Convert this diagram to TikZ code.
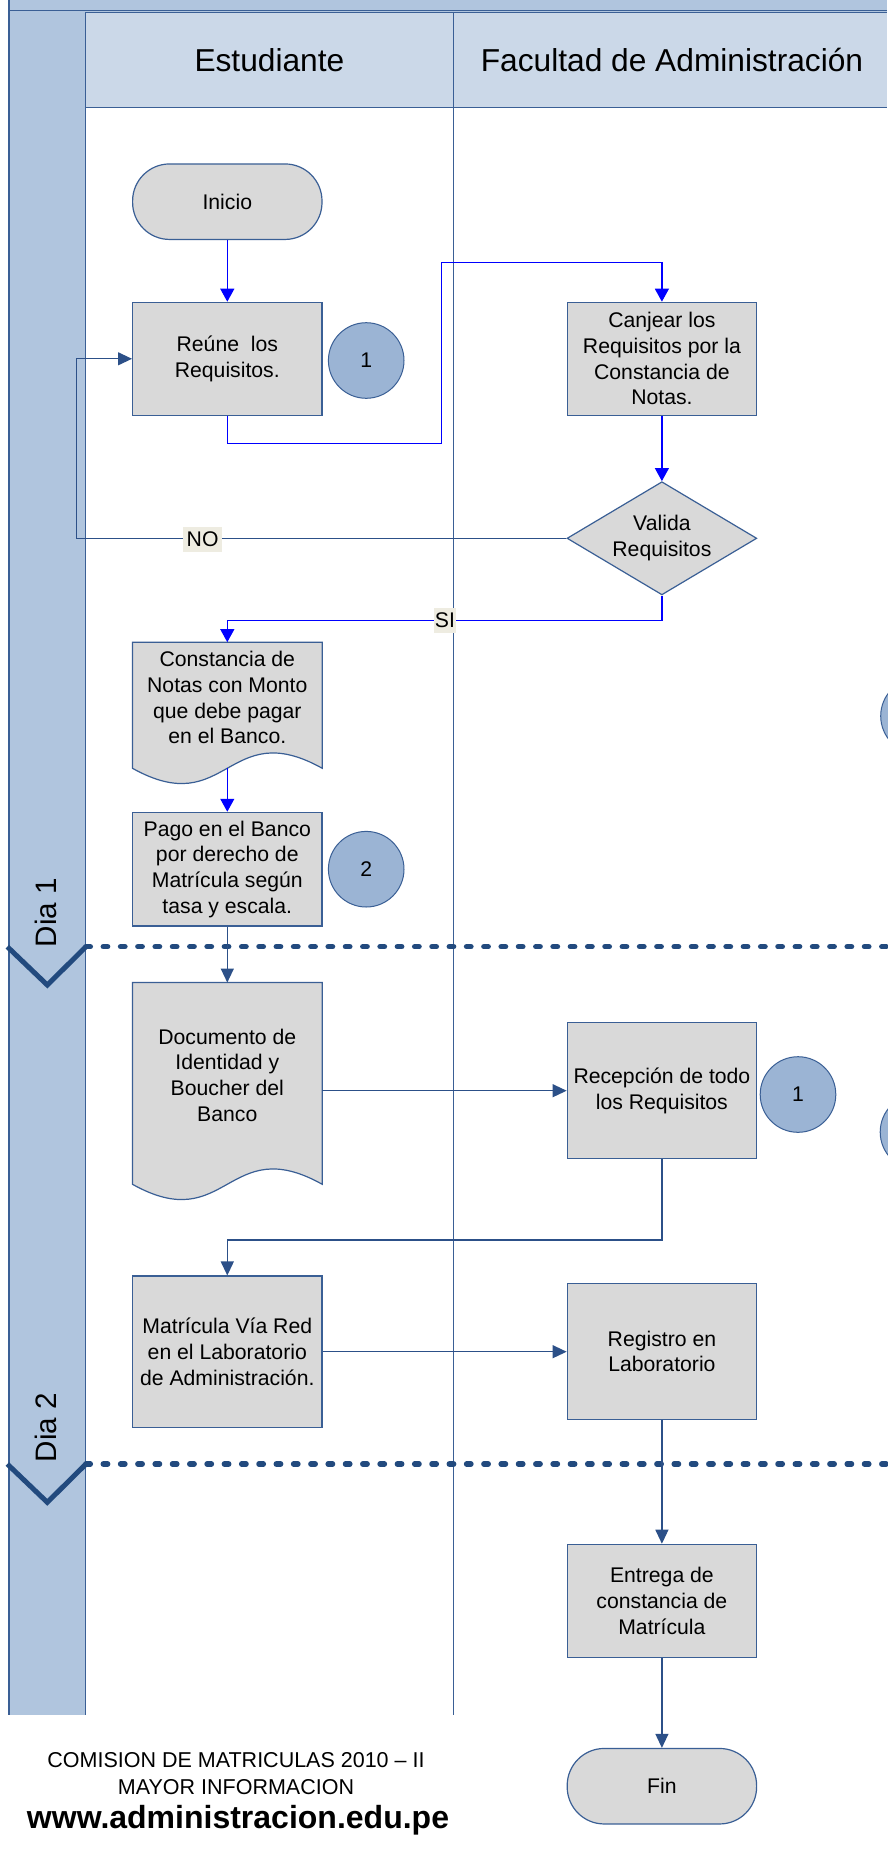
\documentclass[tikz,border=0pt]{standalone}
\usepackage{fontspec}
\setmainfont{Liberation Sans}
\usetikzlibrary{arrows.meta,shapes.geometric,calc,backgrounds}
\definecolor{stripblue}{HTML}{B0C5DE}
\definecolor{headblue}{HTML}{CBD8E8}
\definecolor{lanecol}{HTML}{3A5F95}
\definecolor{nodeline}{HTML}{3A5F95}
\definecolor{nodefill}{HTML}{D9D9D9}
\definecolor{circfill}{HTML}{9BB4D4}
\definecolor{darkarrow}{HTML}{2C5088}
\definecolor{dotblue}{HTML}{224A7E}
\definecolor{labelfill}{HTML}{EEECE1}
\newcommand\ndfont{\fontsize{21.2}{25.7}\selectfont}
\newcommand\hdfont{\fontsize{31.7}{36}\selectfont}
\newcommand\dyfont{\fontsize{29.6}{32}\selectfont}
\newcommand\ftfont{\fontsize{21.5}{25}\selectfont}
\newcommand\wwwfont{\fontsize{32}{36}\selectfont\bfseries}
\begin{document}
\begin{tikzpicture}[x=1pt,y=-1pt,
  laneline/.style={draw=lanecol,line width=1.3pt},
  procbox/.style={rectangle,draw=nodeline,fill=nodefill,line width=1.2pt,minimum width=189.4pt,inner sep=0pt,align=center,font=\ndfont},
  term/.style={procbox,rounded corners=37pt,minimum height=75.5pt},
  decision/.style={diamond,draw=nodeline,fill=nodefill,line width=1.2pt,minimum width=189.8pt,minimum height=113.2pt,aspect=1.677,inner sep=0pt,align=center,font=\ndfont},
  connector/.style={circle,draw=nodeline,fill=circfill,line width=1pt,minimum size=75.6pt,inner sep=0pt,font=\ndfont},
  docbox/.style={rectangle,minimum width=189.4pt,inner sep=0pt},
  doctext/.style={align=center,font=\ndfont,inner sep=0pt},
  docshape/.style={draw=nodeline,fill=nodefill,line width=1.2pt},
  blueflow/.style={draw=blue,line width=1.2pt,-{Triangle[length=13pt,width=14pt]}},
  darkflow/.style={draw=darkarrow,line width=1.2pt,-{Triangle[length=14pt,width=13pt]}},
  flowlabel/.style={fill=labelfill,font=\ndfont,inner ysep=4pt,minimum height=25pt},
  dayline/.style={draw=dotblue,line width=5.5pt,line cap=round,dash pattern=on 4.3pt off 13pt},
  chevron/.style={draw=dotblue,line width=5pt},
  daylabel/.style={rotate=90,font=\dyfont,inner sep=0pt},
  header/.style={font=\hdfont,inner sep=0pt}
]
\useasboundingbox (0,0) rectangle (887,1857);
% ---------- swimlane frame ----------
\begin{scope}[on background layer]
  \fill[white] (0,0) rectangle (887,1857);
  \fill[stripblue] (9,0) rectangle (85.3,1715);
  \fill[stripblue] (9,0) rectangle (887,12.7);
  \fill[headblue] (85.3,12.7) rectangle (887,107.3);
  \draw[draw=lanecol,line width=1pt] (9,10.2) -- (887,10.2);
  \draw[laneline] (85.3,12.7) -- (887,12.7);
  \draw[laneline] (85.3,107.3) -- (887,107.3);
  \draw[laneline] (9,0) -- (9,1715);
  \draw[laneline] (85.3,12.7) -- (85.3,1715);
  \draw[laneline] (453.5,12.7) -- (453.5,1715);
\end{scope}
% ---------- day separators ----------
\draw[dayline] (86,946.7) -- (895,946.7);
\draw[dayline] (86,1464) -- (895,1464);
\draw[chevron] (7.3,946.7) -- (47.3,985) -- (86,946.7);
\draw[chevron] (7.3,1464) -- (47.3,1502.3) -- (86,1464);
\node[daylabel] (dia1) at (45.5,912.5) {Dia 1};
\node[daylabel] (dia2) at (45.5,1427.5) {Dia 2};
% ---------- headers ----------
\node[header] (hEst) at (269.4,60) {Estudiante};
\node[header] (hFac) at (672,60) {Facultad de Administración};
% ---------- nodes ----------
\node[term] (inicio) at (227.3,201.7) {Inicio};
\node[procbox,minimum height=113pt] (reune) at (227.3,358.8) {Reúne~~los\\Requisitos.};
\node[connector] (c1a) at (366.2,360.5) {1};
\node[procbox,minimum height=113pt] (canjear) at (661.9,358.8) {Canjear los\\Requisitos por la\\Constancia de\\Notas.};
\node[decision] (valida) at (661.9,538.3) {Valida\\Requisitos};
\node[docbox,minimum height=125.7pt,
  label={[doctext,yshift=7.5pt]center:{Constancia de\\Notas con Monto\\que debe pagar\\en el Banco.}}] (cons) at (227.3,705.2) {};
\node[procbox,minimum height=113.7pt] (pago) at (227.3,869.2) {Pago en el Banco\\por derecho de\\Matrícula según\\tasa y escala.};
\node[connector] (c2) at (366.2,869.2) {2};
\node[docbox,minimum height=201.3pt,
  label={[doctext,yshift=8.4pt]center:{Documento de\\Identidad y\\Boucher del\\Banco}}] (docu) at (227.3,1083.4) {};
\node[procbox,minimum height=136pt] (recep) at (661.9,1090.7) {Recepción de todo\\los Requisitos};
\node[connector] (c1b) at (798,1094.5) {1};
\node[procbox,minimum height=151.3pt] (matr) at (227.3,1351.7) {Matrícula Vía Red\\en el Laboratorio\\de Administración.};
\node[procbox,minimum height=136pt] (regis) at (661.9,1351.3) {Registro en\\Laboratorio};
\node[procbox,minimum height=113.4pt] (entrega) at (661.9,1601) {Entrega de\\constancia de\\Matrícula};
\node[term] (fin) at (661.9,1786.2) {Fin};
\node[connector] (pc1) at (918.5,716) {};
\node[connector] (pc2) at (918,1132) {};
% ---------- document shapes ----------
\begin{scope}[on background layer]
  \draw[docshape] (cons.north west) -- (cons.north east) -- (cons.south east)
    .. controls ($(cons.south)+(0,-53)$) and ($(cons.south)+(0,53)$) .. (cons.south west) -- cycle;
  \draw[docshape] (docu.north west) -- (docu.north east) -- (docu.south east)
    .. controls ($(docu.south)+(0,-53)$) and ($(docu.south)+(0,53)$) .. (docu.south west) -- cycle;
\end{scope}
% ---------- connectors ----------
\coordinate (rA) at (441.6,443.7);
\coordinate (rB) at (441.6,262.3);
\coordinate (noL) at (76.5,538.3);
\draw[blueflow] (inicio) -- (reune);
\draw[blueflow] (reune.south) |- (rA) -- (rB) -| (canjear.north);
\draw[blueflow] (canjear) -- (valida);
\draw[darkflow] (valida.west) -- (noL) |- (reune.west);
\draw[blueflow] (valida.south) -- ++(0,25) -| (cons.north);
\draw[blueflow] (cons.south) -- (pago.north);
\draw[darkflow] (pago) -- (docu);
\draw[darkflow] (docu.east |- recep.west) -- (recep.west);
\draw[darkflow] (recep.south) -- ++(0,80.6) -| (matr.north);
\draw[darkflow] (matr.east) -- (matr.east -| regis.west);
\draw[darkflow] (regis) -- (entrega);
\draw[darkflow] (entrega) -- (fin);
% ---------- flow labels ----------
\node[flowlabel,inner xsep=3.5pt] (lblNO) at (202.6,539) {NO};
\node[flowlabel,inner xsep=0.5pt] (lblSI) at (445,620.3) {SI};
% ---------- footer ----------
\node[font=\ftfont,inner sep=0pt] (foot1) at (236,1760) {COMISION DE MATRICULAS 2010 – II};
\node[font=\ftfont,inner sep=0pt] (foot2) at (236,1786.7) {MAYOR INFORMACION};
\node[font=\wwwfont,inner sep=0pt] (foot3) at (238,1820) {www.administracion.edu.pe};
\end{tikzpicture}
\end{document}
